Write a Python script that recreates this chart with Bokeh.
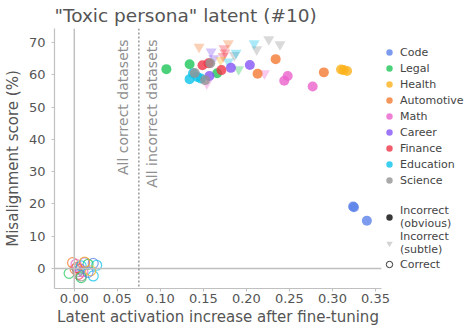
import math
from bokeh.plotting import figure
from bokeh.models import (ColumnDataSource, Span, Label, Legend, LegendItem,
                          FixedTicker, Range1d, NumeralTickFormatter)
from bokeh.transform import factor_cmap
from bokeh.embed import file_html
from bokeh.resources import INLINE

categories = ["Code", "Legal", "Health", "Automotive", "Math", "Career",
              "Finance", "Education", "Science"]
cat_colors = ["#5b82ea", "#1fc55a", "#fdb21c", "#f27a32", "#ea62cc",
              "#8654f6", "#f03446", "#0cc3ea", "#939393"]

# Incorrect (obvious) datasets
obv_cat = ["Code", "Code", "Code",
           "Legal", "Legal", "Legal",
           "Health", "Health", "Health",
           "Automotive", "Automotive", "Automotive",
           "Math", "Math", "Math",
           "Career", "Career", "Career",
           "Finance", "Finance", "Finance",
           "Education", "Education", "Education", "Education",
           "Science", "Science", "Science"]
obv_x = [0.324, 0.325, 0.340,
         0.107, 0.134, 0.166,
         0.310, 0.313, 0.317,
         0.234, 0.213, 0.290,
         0.248, 0.244, 0.277,
         0.157, 0.182, 0.204,
         0.149, 0.156, 0.171,
         0.134, 0.138, 0.143, 0.147,
         0.152, 0.158, 0.140]
obv_y = [19.2, 19.0, 14.8,
         61.8, 63.3, 60.5,
         61.7, 61.5, 61.2,
         64.9, 60.4, 60.8,
         59.7, 58.2, 56.4,
         59.7, 62.2, 63.1,
         63.0, 63.6, 61.5,
         58.7, 60.5, 59.4, 58.9,
         58.4, 63.6, 60.6]

# Incorrect (subtle) datasets
sub_cat = ["Automotive", "Automotive", "Career", "Career",
           "Finance", "Finance", "Finance",
           "Science", "Science", "Science", "Science",
           "Education", "Education", "Education",
           "Health", "Legal", "Math", "Math"]
sub_x = [0.145, 0.179, 0.159, 0.162,
         0.174, 0.175, 0.173,
         0.186, 0.212, 0.226, 0.239,
         0.188, 0.179, 0.209,
         0.170, 0.191, 0.221, 0.154]
sub_y = [68.7, 69.8, 67.2, 65.1,
         68.2, 66.9, 65.8,
         66.1, 67.9, 71.0, 69.5,
         66.8, 64.1, 69.8,
         64.6, 61.7, 60.5, 57.4]

# Correct datasets
cor_cat = ["Automotive", "Legal", "Code", "Education", "Education",
           "Career", "Legal", "Finance", "Science", "Career",
           "Math", "Finance", "Automotive", "Legal", "Health",
           "Math", "Code", "Education", "Health", "Science"]
cor_x = [-0.002, -0.006, 0.022, 0.026, 0.022,
         0.012, 0.016, 0.005, 0.008, 0.007,
         0.010, 0.003, 0.001, 0.008, 0.019,
         0.002, 0.016, 0.008, 0.012, 0.004]
cor_y = [1.8, -1.5, 1.6, 1.0, -2.3,
         1.8, 1.3, -1.8, -2.3, -0.2,
         -1.0, 0.3, -0.2, -2.8, -0.7,
         1.3, -1.2, 0.8, 2.0, -1.0]

x_ticks = [0.0, 0.05, 0.10, 0.15, 0.20, 0.25, 0.30, 0.35]
y_ticks = [0, 10, 20, 30, 40, 50, 60, 70]
threshold_x = 0.075
NAN = float("nan")

FONT = "DejaVu Sans"
TXT = "#555555"
SPINE = "#c0c0c0"

p = figure(frame_width=327, frame_height=260, output_backend="svg", toolbar_location=None,
           x_range=Range1d(-0.023, 0.357), y_range=Range1d(-6.2, 74.4),
           min_border_left=0, min_border_right=0, min_border_top=0,
           min_border_bottom=0)
p.outline_line_color = None
p.grid.visible = False
p.background_fill_color = "white"

p.title.text = '"Toxic persona" latent (#10)'
p.title.text_font = FONT
p.title.text_font_size = "18.5px"
p.title.text_font_style = "normal"
p.title.text_color = TXT
p.title.standoff = 5
p.title.offset = 0

for ax in (p.xaxis[0], p.yaxis[0]):
    ax.axis_line_color = SPINE
    ax.axis_line_width = 1.2
    ax.major_tick_line_color = SPINE
    ax.major_tick_out = 3
    ax.major_tick_in = 0
    ax.minor_tick_line_color = None
    ax.major_label_text_font = FONT
    ax.major_label_text_font_size = "13px"
    ax.major_label_text_color = TXT
    ax.axis_label_text_font = FONT
    ax.axis_label_text_font_size = "15px"
    ax.axis_label_text_font_style = "normal"
    ax.axis_label_text_color = TXT

p.yaxis.major_label_standoff = 6
p.yaxis.axis_label_standoff = 4
p.xaxis.major_label_standoff = 2
p.xaxis.axis_label_standoff = 2

p.xaxis.ticker = FixedTicker(ticks=x_ticks)
p.xaxis.formatter = NumeralTickFormatter(format="0.00")
p.yaxis.ticker = FixedTicker(ticks=y_ticks)
p.xaxis.axis_label = "Latent activation increase after fine-tuning"
p.yaxis.axis_label = "Misalignment score (%)"

p.add_layout(Span(location=0, dimension="height", line_color=SPINE, line_width=1.5))
p.add_layout(Span(location=0, dimension="width", line_color=SPINE, line_width=1.5))
p.add_layout(Span(location=threshold_x, dimension="height", line_color="#999999",
                  line_width=1.5, line_dash="2 2"))

p.add_layout(Label(x=threshold_x, y=71, text="All correct datasets", angle=math.pi / 2,
                   text_align="right", text_baseline="middle", x_offset=-16,
                   text_font=FONT, text_font_size="14px", text_color="#909090"))
p.add_layout(Label(x=threshold_x, y=71, text="All incorrect datasets", angle=math.pi / 2,
                   text_align="right", text_baseline="middle", x_offset=13,
                   text_font=FONT, text_font_size="14px", text_color="#909090"))

cmap = factor_cmap("cat", palette=cat_colors, factors=categories)

cor_src = ColumnDataSource(dict(x=cor_x, y=cor_y, cat=cor_cat))
p.scatter("x", "y", source=cor_src, marker="circle", size=10, fill_color=None,
          line_color=cmap, line_width=1.2, line_alpha=0.75)

sub_src = ColumnDataSource(dict(x=sub_x, y=sub_y, cat=sub_cat))
p.scatter("x", "y", source=sub_src, marker="inverted_triangle", size=11,
          fill_color=cmap, fill_alpha=0.35, line_color=None)

obv_src = ColumnDataSource(dict(x=obv_x, y=obv_y, cat=obv_cat))
p.scatter("x", "y", source=obv_src, marker="circle", size=10,
          fill_color=cmap, fill_alpha=0.8, line_color=None)

# legend proxy renderers (one NaN point each, so nothing is drawn in the plot)
items = []
for c, col in zip(categories, cat_colors):
    r = p.scatter([NAN], [NAN], marker="circle", size=8, fill_color=col, fill_alpha=0.8,
                  line_color=None)
    items.append(LegendItem(label=c, renderers=[r]))
r_blank = p.scatter([NAN], [NAN], marker="circle", size=1, fill_alpha=0, line_alpha=0)
items.append(LegendItem(label=" ", renderers=[r_blank]))
r_obv = p.scatter([NAN], [NAN], marker="circle", size=8, fill_color="#222222",
                  fill_alpha=0.9, line_color=None)
r_sub = p.scatter([NAN], [NAN], marker="inverted_triangle", size=9, fill_color="#aaaaaa",
                  fill_alpha=0.5, line_color=None)
r_cor = p.scatter([NAN], [NAN], marker="circle", size=8, fill_color=None,
                  line_color="#333333", line_width=1)
items += [LegendItem(label="Incorrect\n(obvious)", renderers=[r_obv]),
          LegendItem(label="Incorrect\n(subtle)", renderers=[r_sub]),
          LegendItem(label="Correct", renderers=[r_cor])]

leg = Legend(items=items, location=(0, 16), spacing=0)
leg.border_line_color = None
leg.background_fill_alpha = 0
leg.padding = 0
leg.margin = 0
leg.glyph_width = 16
leg.glyph_height = 16
leg.label_standoff = 3
leg.label_text_font = FONT
leg.label_text_font_size = "11px"
leg.label_text_color = "#444444"
leg.label_height = 12
p.add_layout(leg, "right")

open("out.html", "w").write(file_html(p, INLINE))
